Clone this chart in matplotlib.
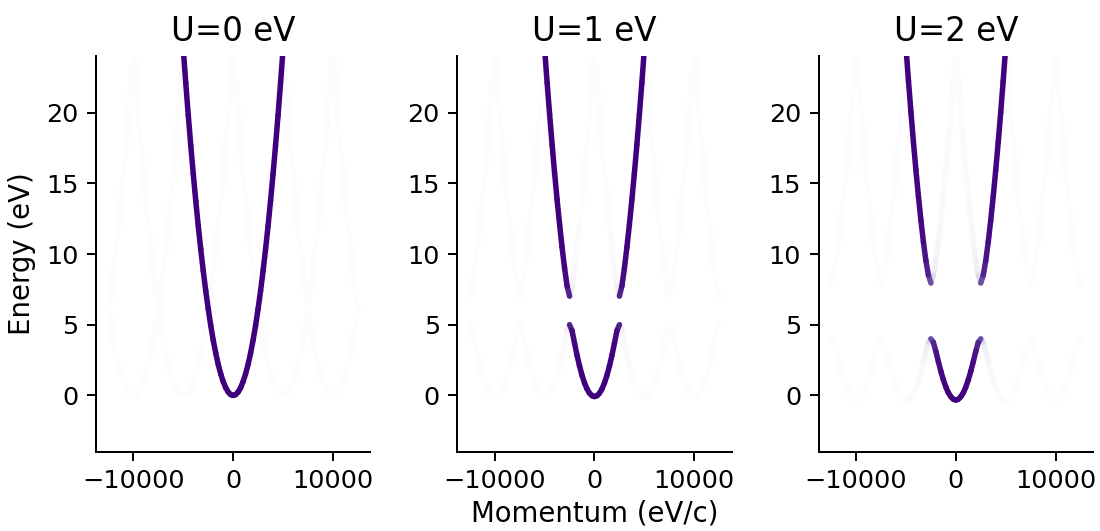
import numpy as np
import matplotlib
matplotlib.use("Agg")
import matplotlib.pyplot as plt
from matplotlib.collections import LineCollection
from matplotlib.colors import Normalize

# reduced-zone momenta (eV/c), k >= 0; mirrored for k < 0
K_REDUCED = [0, 250, 500, 750, 1000, 1250, 1500, 1750, 2000, 2250, 2500]
G_VEC = 5000          # reciprocal lattice vector (eV/c)
ZONES = [-2, -1, 0, 1, 2]
U_VALUES = [0, 1, 2]

# band energies (eV), lower and upper band
E_LOWER_U0 = [0.0, 0.06, 0.24, 0.55, 0.98, 1.53, 2.20, 3.00, 3.91, 4.95, 6.12]
E_UPPER_U0 = [24.46, 22.08, 19.81, 17.67, 15.66, 13.76, 11.99, 10.34, 8.81, 7.40, 6.12]
W_MAIN_U0 = [1.0, 1.0, 1.0, 1.0, 1.0, 1.0, 1.0, 1.0, 1.0, 1.0, 1.0]

E_LOWER_U1 = [-0.08, -0.02, 0.16, 0.46, 0.88, 1.42, 2.08, 2.84, 3.69, 4.58, 5.00]
E_UPPER_U1 = [24.50, 22.12, 19.87, 17.73, 15.72, 13.84, 12.09, 10.47, 9.00, 7.74, 7.02]
W_MAIN_U1 = [0.998, 0.998, 0.997, 0.997, 0.995, 0.993, 0.990, 0.982, 0.963, 0.887, 0.5]

E_LOWER_U2 = [-0.33, -0.27, -0.09, 0.19, 0.59, 1.10, 1.71, 2.39, 3.11, 3.75, 4.00]
E_UPPER_U2 = [24.62, 22.26, 20.02, 17.91, 15.92, 14.08, 12.38, 10.85, 9.52, 8.50, 7.95]
W_MAIN_U2 = [0.993, 0.992, 0.990, 0.987, 0.982, 0.975, 0.963, 0.939, 0.887, 0.761, 0.5]

PANELS = [
    (E_LOWER_U0, E_UPPER_U0, W_MAIN_U0),
    (E_LOWER_U1, E_UPPER_U1, W_MAIN_U1),
    (E_LOWER_U2, E_UPPER_U2, W_MAIN_U2),
]


def band_segments(lower, upper, w_main):
    """Segments in the extended zone, coloured by plane-wave weight at that momentum."""
    k = np.array(K_REDUCED, float)
    w = np.array(w_main)
    segs, vals = [], []
    for n in ZONES:
        for sign in (1, -1):
            x = sign * k + n * G_VEC
            for E, main_n in ((lower, 0), (upper, -sign)):
                if n == main_n:
                    wt = w
                elif n in (0, -sign):
                    wt = 1 - w
                else:
                    wt = np.zeros_like(w)
                pts = np.column_stack([x, E])
                segs.extend(np.stack([pts[:-1], pts[1:]], axis=1))
                # colour each piece by its inner (zone-centre side) point
                vals.extend(wt[:-1])
    order = np.argsort(vals, kind="stable")
    return [segs[i] for i in order], np.array(vals)[order]


fig, axes = plt.subplots(1, 3, figsize=(1100 / 180, 531 / 180), dpi=180)
fig.subplots_adjust(left=0.0873, right=0.9936, top=0.8945, bottom=0.1488, wspace=0.3175)

for ax, U, (lo, up, w) in zip(axes, U_VALUES, PANELS):
    segs, vals = band_segments(lo, up, w)
    lc = LineCollection(segs, cmap="Purples", norm=Normalize(0, 1), linewidths=2.2,
                        capstyle="round", joinstyle="round")
    lc.set_array(vals)
    ax.add_collection(lc)
    ax.autoscale_view()
    ax.set_ylim(-4, 24)
    ax.set_xticks([-10000, 0, 10000])
    ax.set_yticks([0, 5, 10, 15, 20])
    ax.tick_params(labelsize=10.2)
    ax.set_title(f"U={U} eV", fontsize=13)
    for spine in ("top", "right"):
        ax.spines[spine].set_visible(False)

axes[0].set_ylabel("Energy (eV)", fontsize=11)
axes[1].set_xlabel("Momentum (eV/c)", fontsize=11, labelpad=2.5)

fig.savefig("out.png", dpi=180)
